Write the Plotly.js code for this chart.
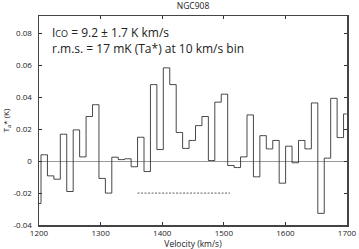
<!DOCTYPE html>
<html>
<head>
<meta charset="utf-8">
<script src="https://cdn.plot.ly/plotly-3.0.1.min.js"></script>
<style>
html,body{margin:0;padding:0;background:#fff;}
#chart{width:359px;height:249px;}
</style>
</head>
<body>
<div id="chart"></div>
<script>
// Channel centre velocities (km/s)
const velocity = [1198.0,1208.5,1218.9,1229.4,1239.8,1250.3,1260.7,1271.2,1281.6,1292.1,
  1302.5,1313.0,1323.4,1333.9,1344.3,1354.8,1365.2,1375.7,1386.1,1396.6,
  1407.0,1417.5,1427.9,1438.4,1448.8,1459.3,1469.7,1480.2,1490.6,1501.1,
  1511.5,1522.0,1532.4,1542.9,1553.3,1563.8,1574.2,1584.7,1595.1,1605.6,
  1616.0,1626.5,1636.9,1647.4,1657.8,1668.3,1678.7,1689.2,1699.6];
// Antenna temperature Ta* (K)
const tempK = [-0.0265,0.004,-0.0092,-0.0113,0.0169,-0.019,0.0196,0.0027,0.028,0.0354,
  -0.0108,-0.020,0.0025,0.001,0.0015,-0.0035,0.015,-0.0065,0.048,0.0073,
  0.0585,0.048,0.018,0.008,0.013,0.0223,0.028,0.0004,0.037,0.042,
  -0.0027,-0.004,0.0027,0.029,-0.0098,0.016,0.0077,0.013,-0.0138,0.0094,
  -0.001,0.013,0.0077,0.0365,-0.0327,0.0019,0.0394,0.0148,0.0296];
// Line integration range marker
const rangeVel = [1360, 1510];
const rangeLevel = [-0.02, -0.02];
// Tick labels
const yTickVals = [-0.04,-0.02,0,0.02,0.04,0.06,0.08];
const yTickText = ['-0.04','-0.02','0','0.02','0.04','0.06','0.08'];
const xTickVals = [1200,1300,1400,1500,1600,1700];
const xTickText = ['1200','1300','1400','1500','1600','1700'];

const FONT = 'Open Sans, Noto Sans, sans-serif';

const traces = [
  {x: velocity, y: tempK, type:'scatter', mode:'lines',
   line:{shape:'hvh', color:'#333', width:0.9}, hoverinfo:'skip'},
  {x: rangeVel, y: rangeLevel, type:'scatter', mode:'lines',
   line:{color:'#333', width:0.8, dash:'2px,1.5px'}, hoverinfo:'skip'}
];

const layout = {
  width:359, height:249,
  margin:{l:39, r:12, t:16, b:24, pad:0},
  paper_bgcolor:'#fff', plot_bgcolor:'#fff',
  showlegend:false,
  font:{family:FONT, color:'#222', size:8},
  title:{text:'NGC908', font:{family:FONT, size:8.5, color:'#222'},
         x:0.5, xref:'paper', y:1-6/249, yref:'container', yanchor:'middle'},
  xaxis:{range:[1200,1700], tickvals:xTickVals, ticktext:xTickText,
    ticks:'inside', ticklen:3, tickwidth:1, tickcolor:'#333',
    showline:true, linecolor:'#444', linewidth:1.5, mirror:'ticks',
    showgrid:false, zeroline:false,
    tickfont:{family:FONT, size:8, color:'#222'},
    title:{text:'Velocity (km/s)', font:{family:FONT, size:8.5, color:'#222'}, standoff:1}},
  yaxis:{range:[-0.04,0.091], tickvals:yTickVals, ticktext:yTickText,
    ticks:'inside', ticklen:3, tickwidth:1, tickcolor:'#333',
    showline:true, linecolor:'#444', linewidth:1.5, mirror:'ticks',
    showgrid:false, zeroline:true, zerolinecolor:'#999', zerolinewidth:1,
    ticklabelstandoff:4,
    tickfont:{family:FONT, size:8, color:'#222'},
    title:{text:'T<sub>a</sub>* (K)', font:{family:FONT, size:8, color:'#222'}, standoff:6}},
  annotations:[
    {xref:'paper', yref:'paper', x:(50-39)/308, y:(225-41)/209, xanchor:'left', yanchor:'middle',
     align:'left',
     text:'I<span style="font-size:9px">CO</span> = 9.2 \u00b1 1.7 K km/s<br>r.m.s. = 17 mK (Ta*) at 10 km/s bin',
     showarrow:false,
     font:{family:FONT, size:12, color:'#222'}}
  ]
};

Plotly.newPlot('chart', traces, layout, {staticPlot:true, displayModeBar:false});
</script>
</body>
</html>
